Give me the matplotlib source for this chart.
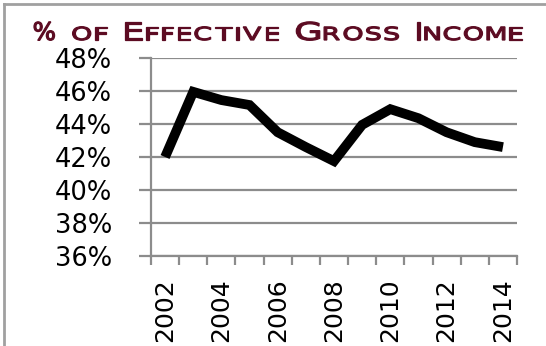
import numpy as np
import matplotlib
matplotlib.use('Agg')
import matplotlib.pyplot as plt
from matplotlib.textpath import TextPath
from matplotlib.patches import PathPatch
from matplotlib.font_manager import FontProperties
from matplotlib.transforms import Affine2D

years = [2002, 2003, 2004, 2005, 2006, 2007, 2008, 2009, 2010, 2011, 2012, 2013, 2014]
pct = [42.0, 45.95, 45.45, 45.15, 43.5, 42.6, 41.75, 43.95, 44.9, 44.35, 43.5, 42.9, 42.6]
y_ticks = [36, 38, 40, 42, 44, 46, 48]
title_words = ["%", "of", "Effective", "Gross", "Income"]

GRID = '#8c8c8c'
TITLE_COLOR = '#5c0b22'

fig = plt.figure(figsize=(5.46, 3.46), dpi=100)

# frame (top and left gray lines)
fig.add_artist(plt.Line2D([4 / 546, 1], [1 - 4 / 346, 1 - 4 / 346], transform=fig.transFigure,
                          color='#a0a0a0', lw=2))
fig.add_artist(plt.Line2D([4 / 546, 4 / 546], [0, 1 - 4 / 346], transform=fig.transFigure,
                          color='#a0a0a0', lw=2))

ax = fig.add_axes([151 / 546, 1 - 256 / 346, (517 - 151) / 546, (256 - 58) / 346])
x = np.arange(len(years))
ax.plot(x, pct, color='black', lw=7, solid_joinstyle='miter', solid_capstyle='butt', zorder=3)

ax.set_xlim(-0.5, len(years) - 0.5)
ax.set_ylim(36, 48)
ax.set_yticks(y_ticks)
ax.set_yticklabels([f"{v}%" for v in y_ticks], fontsize=18.5)
ax.grid(axis='y', color=GRID, lw=1.6)
ax.set_axisbelow(True)

ax.set_xticks(x[::2])
ax.set_xticklabels([str(y) for y in years[::2]], rotation=90, fontsize=18)
ax.set_xticks(np.arange(len(years) + 1) - 0.5, minor=True)
ax.tick_params(axis='x', which='major', length=0, pad=16)
ax.tick_params(axis='x', which='minor', length=6.5, width=1.6, color=GRID)
ax.tick_params(axis='y', length=9, width=1.6, color=GRID, pad=19)

for s in ['top', 'right']:
    ax.spines[s].set_visible(False)
for s in ['left', 'bottom']:
    ax.spines[s].set_color(GRID)
    ax.spines[s].set_linewidth(1.6)

# small-caps title drawn as stretched glyph paths (pixel coordinates)
prop = FontProperties(family='DejaVu Sans', weight='normal')
chars = []
for wi, w in enumerate(title_words):
    for ci, ch in enumerate(w):
        big = (ci == 0 and ch.isupper()) or not ch.isalpha()
        chars.append((ch.upper(), 24.5 if big else 18.0, wi, 1.5 if ch.isalpha() else 1.0))

x0, x1, base = 34, 522, 346 - 40
paths, widths = [], []
for ch, size, wi, st in chars:
    tp = TextPath((0, 0), ch, size=size, prop=prop)
    ext = tp.get_extents()
    paths.append((tp, ext.x0, st))
    widths.append(ext.width * st)

word_gap = 18
n_gaps = len(title_words) - 1
n_track = len(chars) - 1 - n_gaps
track = (x1 - x0 - sum(widths) - n_gaps * word_gap) / max(n_track, 1)
pos = x0
for i, (tp, ox, st) in enumerate(paths):
    tr = Affine2D().translate(-ox, 0).scale(st, 1).translate(pos, base)
    fig.add_artist(PathPatch(tr.transform_path(tp), facecolor=TITLE_COLOR, edgecolor=TITLE_COLOR,
                             lw=0.9, transform=None))
    pos += widths[i]
    if i + 1 < len(chars):
        pos += word_gap if chars[i + 1][2] != chars[i][2] else track

fig.savefig('out.png', dpi=100)
